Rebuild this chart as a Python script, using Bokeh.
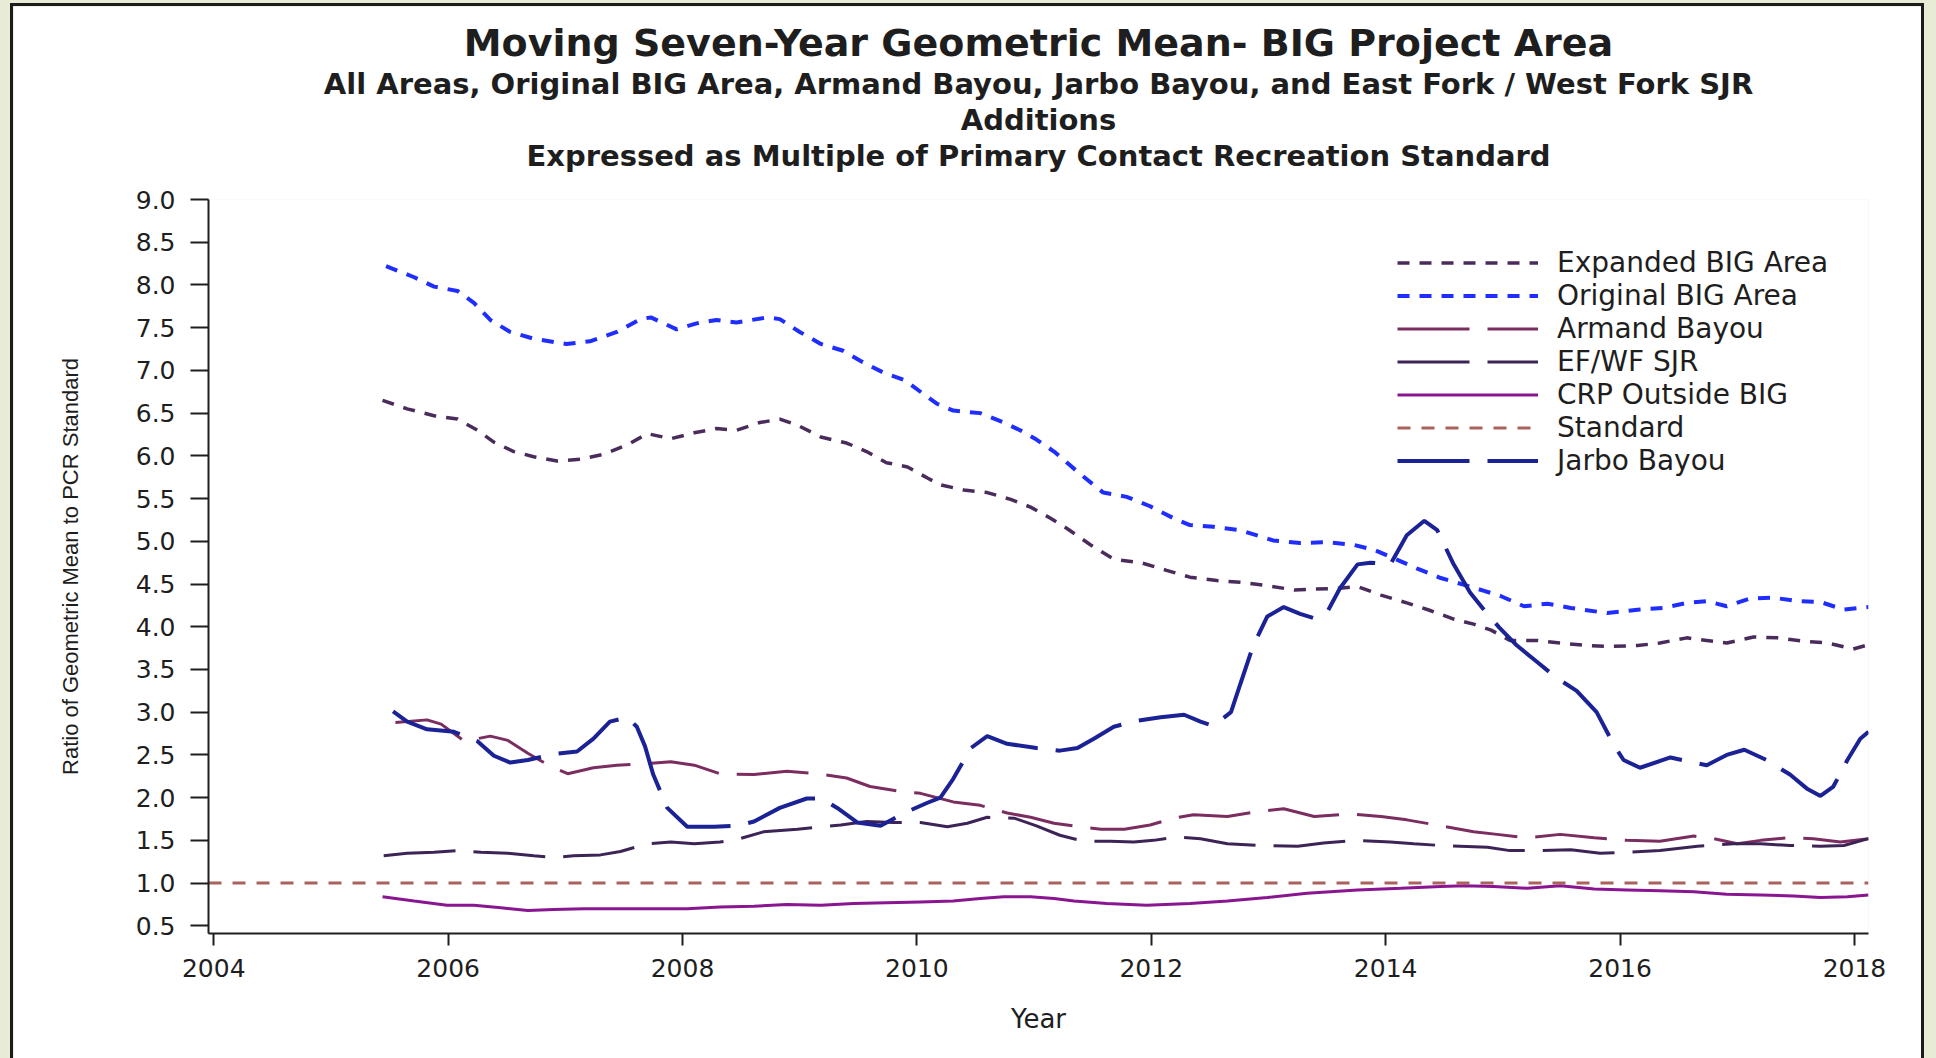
from bokeh.plotting import figure
from bokeh.models import Title, Legend, LegendItem, FixedTicker, NumeralTickFormatter, Range1d
from bokeh.embed import file_html
from bokeh.resources import INLINE

# ---------------- data ----------------
TITLE_LINES = ["Moving Seven-Year Geometric Mean- BIG Project Area",
               "All Areas, Original BIG Area, Armand Bayou, Jarbo Bayou, and East Fork / West Fork SJR",
               "Additions",
               "Expressed as Multiple of Primary Contact Recreation Standard"]
X_LABEL = "Year"
Y_LABEL = "Ratio of Geometric Mean to PCR Standard"
x_ticks = [2004, 2006, 2008, 2010, 2012, 2014, 2016, 2018]
y_ticks = [0.5, 1.0, 1.5, 2.0, 2.5, 3.0, 3.5, 4.0, 4.5, 5.0, 5.5, 6.0, 6.5, 7.0, 7.5, 8.0, 8.5, 9.0]

expanded_x = [2005.44, 2005.65, 2005.88, 2006.08, 2006.25, 2006.39, 2006.56, 2006.73, 2006.93, 2007.13,
              2007.33, 2007.53, 2007.70, 2007.90, 2008.10, 2008.29, 2008.46, 2008.66, 2008.83, 2008.98,
              2009.18, 2009.40, 2009.57, 2009.74, 2009.92, 2010.09, 2010.20, 2010.40, 2010.60, 2010.80,
              2010.97, 2011.14, 2011.28, 2011.48, 2011.68, 2011.91, 2012.13, 2012.33, 2012.56, 2012.76,
              2012.99, 2013.22, 2013.39, 2013.61, 2013.76, 2013.96, 2014.18, 2014.38, 2014.58, 2014.75,
              2014.90, 2015.06, 2015.29, 2015.49, 2015.72, 2015.92, 2016.15, 2016.34, 2016.57, 2016.74,
              2016.91, 2017.14, 2017.34, 2017.57, 2017.77, 2017.99, 2018.12]
expanded_y = [6.65, 6.55, 6.47, 6.43, 6.30, 6.16, 6.05, 5.99, 5.94, 5.96,
              6.02, 6.13, 6.26, 6.20, 6.27, 6.32, 6.30, 6.39, 6.43, 6.36,
              6.22, 6.15, 6.05, 5.92, 5.87, 5.74, 5.66, 5.60, 5.57, 5.49,
              5.40, 5.27, 5.15, 4.96, 4.79, 4.75, 4.66, 4.58, 4.54, 4.52,
              4.48, 4.43, 4.44, 4.45, 4.47, 4.37, 4.28, 4.19, 4.09, 4.03,
              3.96, 3.84, 3.84, 3.81, 3.78, 3.77, 3.78, 3.81, 3.87, 3.84,
              3.81, 3.88, 3.87, 3.83, 3.81, 3.74, 3.79]

original_x = [2005.47, 2005.71, 2005.88, 2006.08, 2006.22, 2006.36, 2006.53, 2006.73, 2007.01, 2007.21,
              2007.44, 2007.64, 2007.73, 2007.95, 2008.12, 2008.29, 2008.46, 2008.72, 2008.83, 2009.00,
              2009.18, 2009.37, 2009.52, 2009.72, 2009.89, 2010.03, 2010.17, 2010.31, 2010.54, 2010.74,
              2010.88, 2011.02, 2011.17, 2011.40, 2011.59, 2011.79, 2011.99, 2012.19, 2012.33, 2012.53,
              2012.76, 2013.04, 2013.27, 2013.50, 2013.72, 2013.90, 2014.07, 2014.27, 2014.47, 2014.67,
              2014.84, 2014.98, 2015.18, 2015.38, 2015.58, 2015.89, 2016.15, 2016.37, 2016.57, 2016.74,
              2016.91, 2017.11, 2017.31, 2017.51, 2017.71, 2017.91, 2018.12]
original_y = [8.22, 8.09, 7.98, 7.93, 7.79, 7.59, 7.45, 7.37, 7.31, 7.34,
              7.45, 7.60, 7.62, 7.48, 7.55, 7.59, 7.56, 7.62, 7.60, 7.45,
              7.31, 7.23, 7.11, 6.97, 6.89, 6.75, 6.61, 6.53, 6.50, 6.39,
              6.30, 6.19, 6.05, 5.78, 5.57, 5.52, 5.41, 5.27, 5.19, 5.17,
              5.13, 5.01, 4.98, 4.99, 4.96, 4.90, 4.80, 4.68, 4.57, 4.49,
              4.42, 4.36, 4.24, 4.27, 4.22, 4.16, 4.20, 4.22, 4.28, 4.30,
              4.24, 4.33, 4.34, 4.30, 4.29, 4.20, 4.23]

armand_x = [2005.55, 2005.82, 2005.94, 2006.14, 2006.36, 2006.51, 2006.68, 2006.87, 2007.02, 2007.24,
            2007.44, 2007.70, 2007.90, 2008.10, 2008.32, 2008.61, 2008.89, 2009.15, 2009.40, 2009.60,
            2009.83, 2010.03, 2010.31, 2010.54, 2010.77, 2010.97, 2011.17, 2011.39, 2011.57, 2011.77,
            2011.99, 2012.19, 2012.36, 2012.65, 2012.87, 2013.13, 2013.39, 2013.70, 2013.96, 2014.18,
            2014.47, 2014.75, 2014.95, 2015.21, 2015.49, 2015.78, 2016.06, 2016.34, 2016.63, 2016.80,
            2017.00, 2017.20, 2017.42, 2017.65, 2017.88, 2018.12]
armand_y = [2.88, 2.91, 2.86, 2.66, 2.72, 2.67, 2.52, 2.37, 2.28, 2.35,
            2.38, 2.40, 2.42, 2.38, 2.28, 2.27, 2.31, 2.28, 2.23, 2.13,
            2.08, 2.05, 1.95, 1.91, 1.82, 1.77, 1.70, 1.66, 1.63, 1.63,
            1.68, 1.76, 1.80, 1.78, 1.83, 1.87, 1.78, 1.81, 1.78, 1.74,
            1.67, 1.60, 1.57, 1.53, 1.57, 1.53, 1.50, 1.49, 1.55, 1.52,
            1.46, 1.50, 1.53, 1.52, 1.48, 1.52]

efwf_x = [2005.45, 2005.65, 2005.88, 2006.09, 2006.28, 2006.51, 2006.73, 2006.90, 2007.07, 2007.30,
          2007.47, 2007.70, 2007.90, 2008.10, 2008.32, 2008.49, 2008.69, 2008.98, 2009.18, 2009.35,
          2009.57, 2009.80, 2010.03, 2010.26, 2010.43, 2010.60, 2010.83, 2011.02, 2011.22, 2011.39,
          2011.48, 2011.65, 2011.85, 2012.02, 2012.22, 2012.42, 2012.65, 2012.93, 2013.25, 2013.47,
          2013.76, 2014.04, 2014.24, 2014.47, 2014.87, 2015.06, 2015.29, 2015.58, 2015.83, 2016.06,
          2016.34, 2016.66, 2016.97, 2017.20, 2017.45, 2017.71, 2017.91, 2018.12]
efwf_y = [1.32, 1.35, 1.36, 1.38, 1.36, 1.35, 1.32, 1.30, 1.32, 1.33,
          1.37, 1.46, 1.48, 1.46, 1.48, 1.52, 1.60, 1.63, 1.66, 1.68,
          1.72, 1.71, 1.71, 1.66, 1.70, 1.77, 1.76, 1.67, 1.56, 1.50,
          1.49, 1.49, 1.48, 1.50, 1.54, 1.52, 1.46, 1.44, 1.43, 1.47,
          1.50, 1.48, 1.46, 1.44, 1.42, 1.38, 1.38, 1.39, 1.35, 1.36,
          1.38, 1.43, 1.46, 1.46, 1.44, 1.43, 1.44, 1.52]

crp_x = [2005.44, 2005.71, 2005.99, 2006.22, 2006.45, 2006.68, 2006.90, 2007.16, 2007.44, 2007.75,
         2008.04, 2008.32, 2008.61, 2008.89, 2009.18, 2009.46, 2009.74, 2010.03, 2010.31, 2010.54,
         2010.74, 2010.97, 2011.17, 2011.34, 2011.62, 2011.96, 2012.33, 2012.65, 2012.99, 2013.33,
         2013.76, 2014.13, 2014.47, 2014.67, 2014.92, 2015.21, 2015.49, 2015.78, 2016.06, 2016.34,
         2016.63, 2016.91, 2017.20, 2017.48, 2017.71, 2017.94, 2018.12]
crp_y = [0.84, 0.79, 0.74, 0.74, 0.71, 0.68, 0.69, 0.70, 0.70, 0.70,
         0.70, 0.72, 0.73, 0.75, 0.74, 0.76, 0.77, 0.78, 0.79, 0.82,
         0.84, 0.84, 0.82, 0.79, 0.76, 0.74, 0.76, 0.79, 0.83, 0.88,
         0.92, 0.94, 0.96, 0.97, 0.96, 0.94, 0.97, 0.93, 0.92, 0.91,
         0.90, 0.87, 0.86, 0.85, 0.83, 0.84, 0.86]

standard_value = 1.0

jarbo_x = [2005.53, 2005.65, 2005.82, 2006.05, 2006.25, 2006.39, 2006.53, 2006.68, 2006.90, 2007.10,
           2007.24, 2007.38, 2007.53, 2007.61, 2007.68, 2007.75, 2007.87, 2008.04, 2008.27, 2008.46,
           2008.61, 2008.83, 2009.06, 2009.18, 2009.32, 2009.49, 2009.69, 2009.89, 2010.09, 2010.20,
           2010.31, 2010.46, 2010.60, 2010.77, 2011.02, 2011.22, 2011.37, 2011.51, 2011.68, 2011.88,
           2012.08, 2012.28, 2012.42, 2012.53, 2012.68, 2012.76, 2012.87, 2012.99, 2013.13, 2013.27,
           2013.39, 2013.50, 2013.61, 2013.76, 2013.87, 2014.04, 2014.18, 2014.33, 2014.44, 2014.58,
           2014.72, 2014.85, 2014.97, 2015.12, 2015.29, 2015.46, 2015.63, 2015.80, 2015.95, 2016.03,
           2016.17, 2016.43, 2016.63, 2016.74, 2016.91, 2017.06, 2017.25, 2017.45, 2017.60, 2017.71,
           2017.82, 2017.94, 2018.05, 2018.12]
jarbo_y = [3.01, 2.89, 2.80, 2.77, 2.66, 2.49, 2.41, 2.44, 2.51, 2.54,
           2.69, 2.89, 2.94, 2.83, 2.60, 2.27, 1.88, 1.66, 1.66, 1.67,
           1.72, 1.88, 1.99, 1.99, 1.88, 1.71, 1.67, 1.82, 1.94, 2.00,
           2.22, 2.58, 2.72, 2.63, 2.58, 2.55, 2.58, 2.69, 2.83, 2.90,
           2.94, 2.97, 2.89, 2.84, 3.00, 3.33, 3.78, 4.12, 4.23, 4.15,
           4.10, 4.17, 4.45, 4.73, 4.75, 4.73, 5.07, 5.24, 5.13, 4.73,
           4.40, 4.18, 3.99, 3.78, 3.59, 3.40, 3.25, 3.00, 2.61, 2.44,
           2.35, 2.47, 2.41, 2.38, 2.50, 2.56, 2.44, 2.27, 2.10, 2.02,
           2.13, 2.44, 2.69, 2.77]

# ---------------- figure ----------------
X_START, X_END = 2003.955, 2018.12
Y_START, Y_END = 0.41, 9.0

FONT = "DejaVu Sans"
TXT = "#1e1e1e"

p = figure(width=1908, height=1052, title=None,
           x_range=Range1d(X_START, X_END), y_range=Range1d(Y_START, Y_END),
           output_backend="svg", toolbar_location=None,
           min_border_left=195, min_border_right=53, min_border_top=193, min_border_bottom=125)
p.background_fill_color = "white"
p.border_fill_color = "white"
p.outline_line_color = None
p.xgrid.visible = False
p.ygrid.visible = False
p.styles = {"outline": "3px solid #1c1c1c"}

# titles: first added sits closest to the plot frame; a blank spacer goes first
p.add_layout(Title(text=" ", text_font=FONT, text_font_size="10px", standoff=14), "above")
title_sizes = ["38px", "29px", "29px", "29px"]
for i in (3, 2, 1, 0):
    p.add_layout(Title(text=TITLE_LINES[i], align="center", text_font=FONT,
                       text_font_size=title_sizes[i], text_font_style="bold",
                       text_color=TXT, standoff=0), "above")

# axes
for ax in (p.xaxis[0], p.yaxis[0]):
    ax.axis_line_color = "#1e1e1e"
    ax.axis_line_width = 2
    ax.major_tick_line_color = "#1e1e1e"
    ax.major_tick_line_width = 2
    ax.major_tick_in = 0
    ax.minor_tick_line_color = None
    ax.major_label_text_font = FONT
    ax.major_label_text_font_size = "25px"
    ax.major_label_text_color = TXT

p.xaxis[0].ticker = FixedTicker(ticks=x_ticks)
p.xaxis[0].formatter = NumeralTickFormatter(format="0")
p.xaxis[0].major_tick_out = 12
p.xaxis[0].major_label_standoff = 13
p.xaxis[0].axis_label = X_LABEL
p.xaxis[0].axis_label_text_font = FONT
p.xaxis[0].axis_label_text_font_size = "26px"
p.xaxis[0].axis_label_text_font_style = "normal"
p.xaxis[0].axis_label_text_color = TXT
p.xaxis[0].axis_label_standoff = 24

p.yaxis[0].ticker = FixedTicker(ticks=y_ticks)
p.yaxis[0].formatter = NumeralTickFormatter(format="0.0")
p.yaxis[0].major_tick_out = 18
p.yaxis[0].major_label_standoff = 15
p.yaxis[0].axis_label = Y_LABEL
p.yaxis[0].axis_label_text_font = "Liberation Sans"
p.yaxis[0].axis_label_text_font_size = "22px"
p.yaxis[0].axis_label_text_font_style = "normal"
p.yaxis[0].axis_label_text_color = TXT
p.yaxis[0].axis_label_standoff = 50

# series
r_exp = p.line(expanded_x, expanded_y, line_color="#4a2c5c", line_width=3.5, line_dash="12 10")
r_orig = p.line(original_x, original_y, line_color="#1f2eff", line_width=4, line_dash="12 10")
r_arm = p.line(armand_x, armand_y, line_color="#7b2d5f", line_width=3, line_dash="72 18")
r_ef = p.line(efwf_x, efwf_y, line_color="#3d2457", line_width=3, line_dash="72 18")
r_crp = p.line(crp_x, crp_y, line_color="#8a1591", line_width=3)
r_std = p.line([X_START, X_END], [standard_value, standard_value], line_color="#a9625c",
               line_width=3, line_dash="13 11")
r_jar = p.line(jarbo_x, jarbo_y, line_color="#1a2296", line_width=4, line_dash="72 18")

legend = Legend(items=[
    LegendItem(label="Expanded BIG Area", renderers=[r_exp]),
    LegendItem(label="Original BIG Area", renderers=[r_orig]),
    LegendItem(label="Armand Bayou", renderers=[r_arm]),
    LegendItem(label="EF/WF SJR", renderers=[r_ef]),
    LegendItem(label="CRP Outside BIG", renderers=[r_crp]),
    LegendItem(label="Standard", renderers=[r_std]),
    LegendItem(label="Jarbo Bayou", renderers=[r_jar]),
], location=(1189, 456))
legend.glyph_width = 141
legend.glyph_height = 33
legend.label_height = 33
legend.label_standoff = 19
legend.spacing = 0
legend.padding = 0
legend.margin = 0
legend.border_line_alpha = 0
legend.background_fill_alpha = 0
legend.label_text_font = FONT
legend.label_text_font_size = "28px"
legend.label_text_color = TXT
p.add_layout(legend)

html = file_html(p, INLINE, title="Moving Seven-Year Geometric Mean")
css = ("<style>html, body { background-color: #e8ecd6 !important; }"
       " body { padding: 6px 0 0 13px !important; }</style>")
html = html.replace("</head>", css + "</head>", 1)
open("out.html", "w").write(html)
